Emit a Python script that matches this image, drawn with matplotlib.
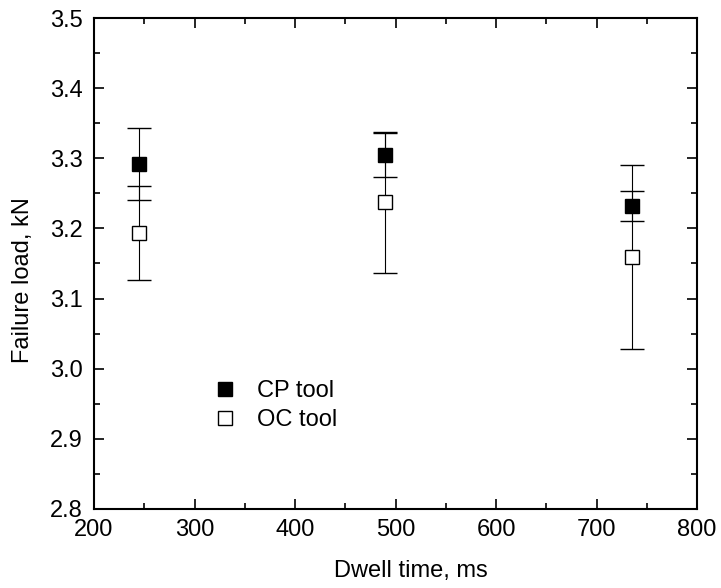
import matplotlib
matplotlib.use("Agg")
import matplotlib.pyplot as plt
from matplotlib.ticker import MultipleLocator

plt.rcParams["font.family"] = ["Liberation Sans", "DejaVu Sans"]

DWELL = [245, 490, 735]
CP_LOAD = [3.292, 3.305, 3.232]
CP_ERR = [0.051, 0.031, 0.022]
OC_LOAD = [3.193, 3.237, 3.159]
OC_ERR = [0.067, 0.100, 0.131]

fig = plt.figure(figsize=(7.21, 5.88), dpi=100)
ax = fig.add_axes([94 / 721, 1 - 509 / 588, 603 / 721, 491 / 588])

style = dict(fmt="s", color="black", ecolor="black", elinewidth=0.8, capsize=8.5,
             capthick=0.8, markersize=9.5, markeredgewidth=1.0, markeredgecolor="black")
ax.errorbar(DWELL, CP_LOAD, yerr=CP_ERR, markerfacecolor="black", label="CP tool", **style)
ax.errorbar(DWELL, OC_LOAD, yerr=OC_ERR, markerfacecolor="white", label="OC tool", **style)

ax.set_xlim(200, 800)
ax.set_ylim(2.8, 3.5)
ax.xaxis.set_major_locator(MultipleLocator(100))
ax.xaxis.set_minor_locator(MultipleLocator(50))
ax.yaxis.set_major_locator(MultipleLocator(0.1))
ax.yaxis.set_minor_locator(MultipleLocator(0.05))
ax.tick_params(which="both", direction="in", top=True, right=True, labelsize=17, width=1.2)
ax.tick_params(which="major", length=7)
ax.tick_params(axis="y", which="major", pad=8)
ax.tick_params(axis="x", which="major", pad=7)
ax.tick_params(which="minor", length=4)
for spine in ax.spines.values():
    spine.set_linewidth(1.5)

ax.set_xlabel("Dwell time, ms", fontsize=17)
ax.set_ylabel("Failure load, kN", fontsize=17)
ax.xaxis.set_label_coords(0.526, -0.104)
ax.yaxis.set_label_coords(-0.1, 0.466)

handles, labels = ax.get_legend_handles_labels()
handles = [h[0] for h in handles]
ax.legend(handles, labels, loc="center left", bbox_to_anchor=(0.162, 0.211), frameon=False,
          fontsize=17, handlelength=1.0, handletextpad=0.86, labelspacing=0.3)

fig.savefig("out.png", dpi=100)
